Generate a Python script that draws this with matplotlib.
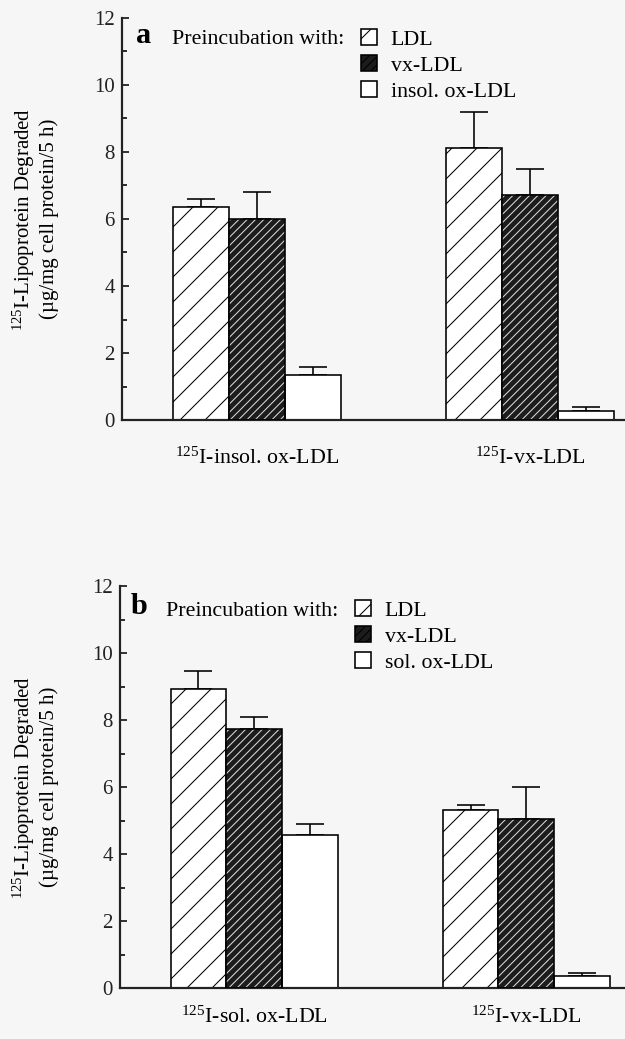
import matplotlib
matplotlib.use("Agg")
import matplotlib.pyplot as plt
import numpy as np
from matplotlib.patches import Patch
from matplotlib.ticker import MultipleLocator

plt.rcParams['font.family'] = ['Liberation Serif', 'DejaVu Serif']
plt.rcParams['mathtext.fontset'] = 'custom'
plt.rcParams['mathtext.rm'] = 'Liberation Serif'
plt.rcParams['mathtext.it'] = 'Liberation Serif:italic'

# ---------------- data ----------------
groups_a = [r"$^{\mathrm{125}}$I-insol. ox-LDL", r"$^{\mathrm{125}}$I-vx-LDL"]
groups_b = [r"$^{\mathrm{125}}$I-sol. ox-LDL", r"$^{\mathrm{125}}$I-vx-LDL"]
series_a = ["LDL", "vx-LDL", "insol. ox-LDL"]
series_b = ["LDL", "vx-LDL", "sol. ox-LDL"]

a_ldl = [6.36, 8.13]
a_vx = [5.99, 6.71]
a_ox = [1.35, 0.27]
a_ldl_err = [0.24, 1.05]
a_vx_err = [0.81, 0.78]
a_ox_err = [0.22, 0.11]

b_ldl = [8.93, 5.32]
b_vx = [7.74, 5.05]
b_ox = [4.56, 0.36]
b_ldl_err = [0.52, 0.13]
b_vx_err = [0.36, 0.94]
b_ox_err = [0.35, 0.09]

yticks = [0, 2, 4, 6, 8, 10, 12]

DPI = 75
W, H = 626, 1039
plt.rcParams['hatch.linewidth'] = 1.0
fig = plt.figure(figsize=(W / DPI, H / DPI), dpi=DPI, facecolor='#f6f6f6')

def px2pt(p):
    return p * 72.0 / DPI

BW = 0.2055


def draw_panel(rect, xlim, letter, groups, vals, errs, names, xpad, leg_anchor, pre_xy, letter_xy):
    ax = fig.add_axes(rect)
    ax.set_facecolor('none')
    x = np.arange(len(groups))
    offs = [-BW, 0, BW]
    styles = [
        dict(facecolor='white', edgecolor='black', hatch='/'),
        dict(facecolor='#1c1c1c', edgecolor='#d8d8d8', hatch='///'),
        dict(facecolor='white', edgecolor='black', hatch=None),
    ]
    for v, e, off, st in zip(vals, errs, offs, styles):
        ax.errorbar(x + off, v, yerr=[np.zeros(len(v)), e], fmt='none', ecolor='black',
                    elinewidth=px2pt(1.6), capsize=px2pt(13.5), capthick=px2pt(1.6), zorder=1)
        if st['hatch'] == '///':
            ax.bar(x + off, v, BW, facecolor=st['facecolor'], edgecolor=st['edgecolor'],
                   hatch='///', linewidth=0, zorder=2)
            ax.bar(x + off, v, BW, facecolor='none', edgecolor='black',
                   linewidth=px2pt(1.6), zorder=3)
        else:
            ax.bar(x + off, v, BW, facecolor=st['facecolor'], edgecolor=st['edgecolor'],
                   hatch=st['hatch'], linewidth=px2pt(1.6), zorder=2)

    ax.set_xlim(*xlim)
    ax.set_ylim(0, 12)
    ax.set_yticks(yticks)
    ax.set_yticklabels([str(t) for t in yticks])
    ax.yaxis.set_minor_locator(MultipleLocator(1))
    ax.tick_params(axis='y', which='major', direction='in', length=px2pt(7), width=px2pt(1.8),
                   labelsize=20, pad=px2pt(7), colors='#222222')
    ax.tick_params(axis='y', which='minor', direction='in', length=px2pt(5), width=px2pt(1.6))
    ax.set_xticks(x)
    ax.set_xticklabels(groups, fontsize=21)
    ax.tick_params(axis='x', length=0, pad=px2pt(xpad))
    for s in ['top', 'right']:
        ax.spines[s].set_visible(False)
    for s in ['left', 'bottom']:
        ax.spines[s].set_linewidth(px2pt(2.2))
        ax.spines[s].set_color('#222222')

    handles = [
        Patch(facecolor='white', edgecolor='black', hatch='/', linewidth=px2pt(1.6)),
        Patch(facecolor='#1c1c1c', edgecolor='black', hatch='///', linewidth=px2pt(1.6)),
        Patch(facecolor='white', edgecolor='black', linewidth=px2pt(1.6)),
    ]
    leg = ax.legend(handles, names, loc='upper left', bbox_to_anchor=leg_anchor,
                    frameon=False, fontsize=21, handlelength=0.75, handleheight=0.75,
                    handletextpad=0.6, labelspacing=0.25, borderpad=0, borderaxespad=0)
    ax.text(pre_xy[0], pre_xy[1], "Preincubation with:", transform=ax.transAxes,
            fontsize=21, ha='left', va='center')
    ax.text(letter_xy[0], letter_xy[1], letter, transform=ax.transAxes,
            fontsize=29, fontweight='bold', ha='left', va='center')
    return ax


def fx(px, left, right):
    return (px - left) / (right - left)


# panel a
top_a, bot_a = 18, 420
rect_a = [122 / W, (H - bot_a) / H, (W - 122) / W, (bot_a - top_a) / H]
ax_a = draw_panel(rect_a, (-0.497, 1.352), 'a', groups_a,
                  [a_ldl, a_vx, a_ox], [a_ldl_err, a_vx_err, a_ox_err], series_a, 28,
                  (fx(361, 122, W), 1 - (29 - top_a) / (bot_a - top_a)),
                  (fx(172, 122, W), 1 - (40 - top_a) / (bot_a - top_a)),
                  (fx(136, 122, W), 1 - (36 - top_a) / (bot_a - top_a)))

# panel b
top_b, bot_b = 586, 988
rect_b = [120 / W, (H - bot_b) / H, (W - 120) / W, (bot_b - top_b) / H]
ax_b = draw_panel(rect_b, (-0.494, 1.366), 'b', groups_b,
                  [b_ldl, b_vx, b_ox], [b_ldl_err, b_vx_err, b_ox_err], series_b, 19,
                  (fx(355, 120, W), 1 - (600 - top_b) / (bot_b - top_b)),
                  (fx(166, 120, W), 1 - (611 - top_b) / (bot_b - top_b)),
                  (fx(131, 120, W), 1 - (606 - top_b) / (bot_b - top_b)))

for top, bot in [(top_a, bot_a), (top_b, bot_b)]:
    yc = 1 - ((top + bot) / 2) / H
    fig.text(24 / W, yc, r"$^{\mathrm{125}}$I-Lipoprotein Degraded", rotation=90,
             ha='center', va='center', fontsize=20)
    fig.text(49 / W, yc, "(µg/mg cell protein/5 h)", rotation=90,
             ha='center', va='center', fontsize=20)

fig.savefig("out.png", dpi=DPI, facecolor=fig.get_facecolor())
